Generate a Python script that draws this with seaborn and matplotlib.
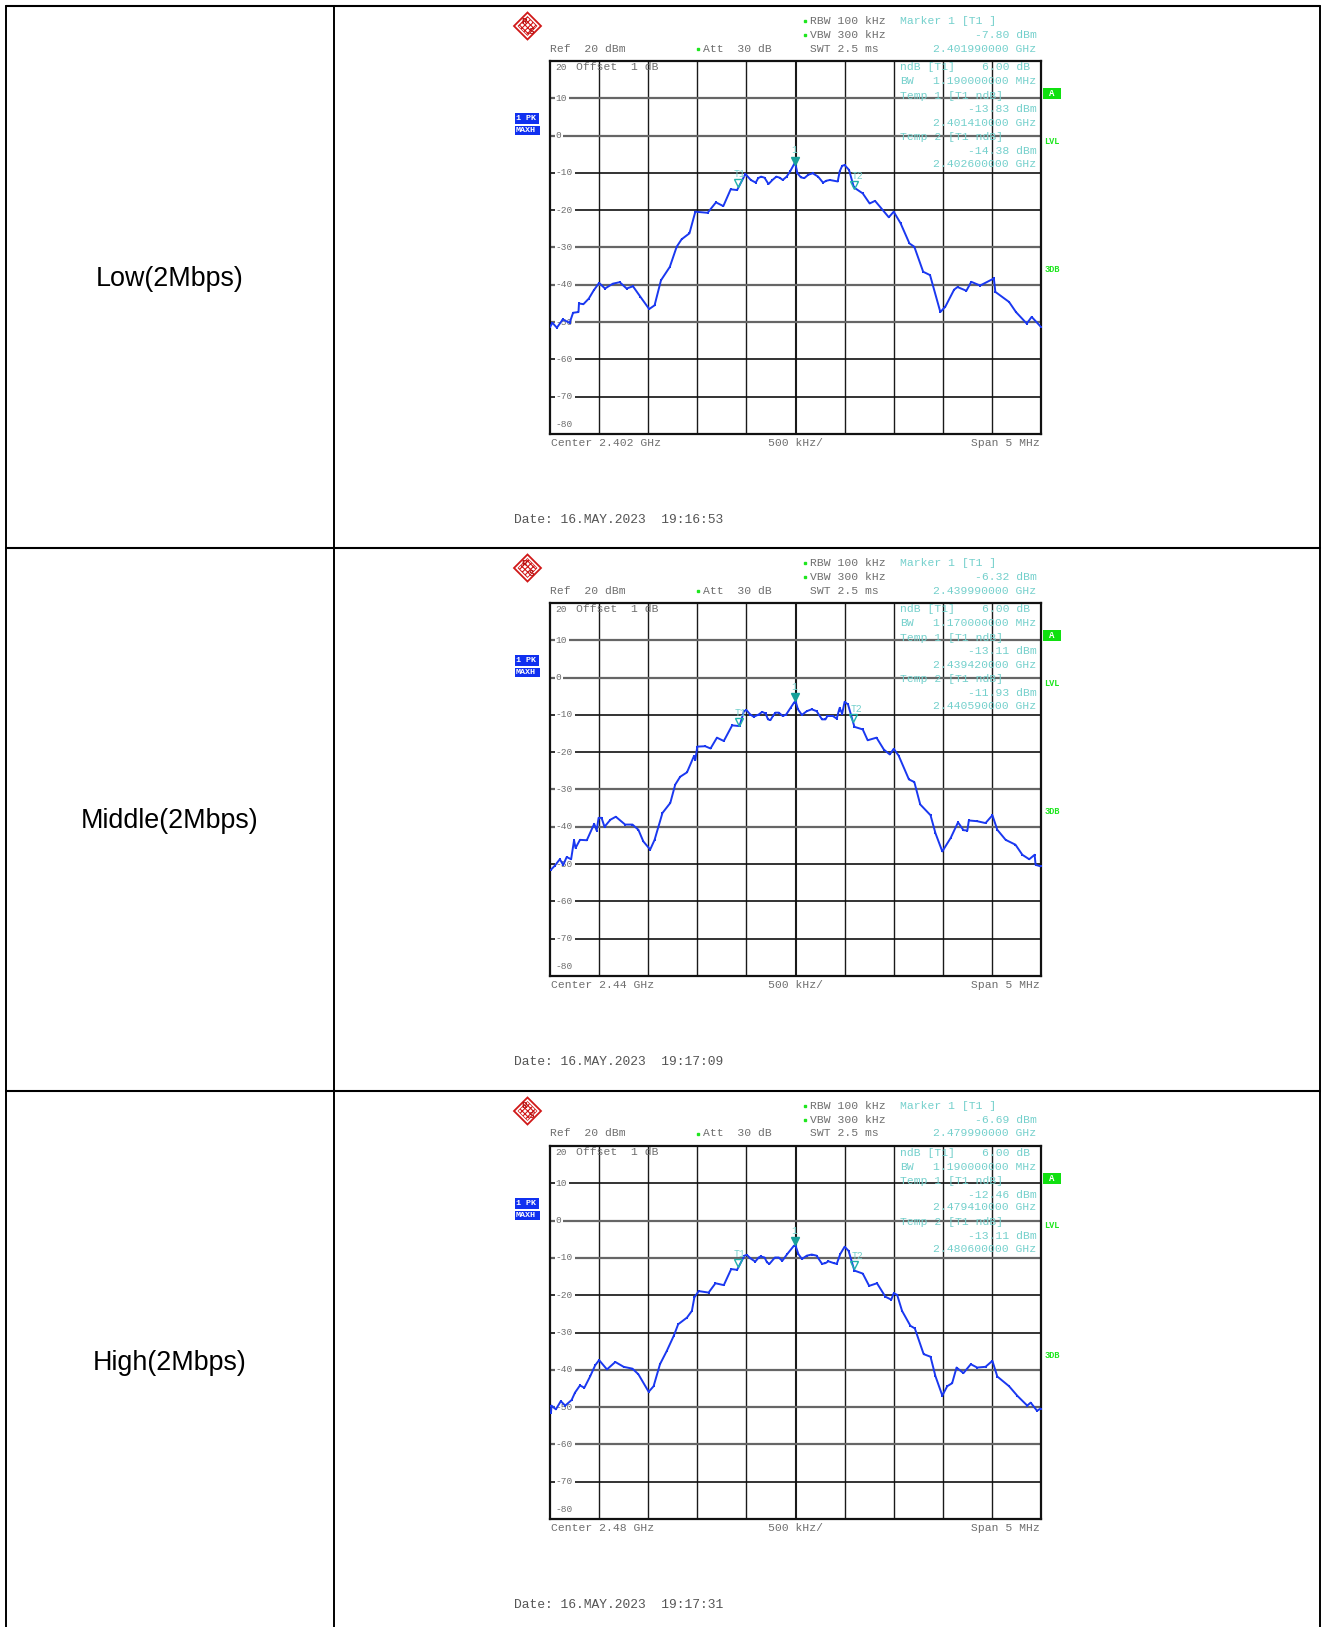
import numpy as np
import pandas as pd
import matplotlib
matplotlib.use("Agg")
import matplotlib.pyplot as plt
from matplotlib.patches import Polygon, Rectangle
from matplotlib.transforms import ScaledTranslation
import seaborn as sns

# ---- data: x in screen divisions (500 kHz each), y in dBm ----
low_div = [0, .05, .14, .26, .40, .47, .58, .59, .68, .79, .89, 1, 1.12, 1.28, 1.42, 1.56, 1.69, 1.84, 2.02, 2.13, 2.26, 2.44, 2.58, 2.68, 2.84, 2.96, 3.21, 3.38, 3.53, 3.68, 3.81, 3.98, 4.09, 4.19, 4.24, 4.30, 4.37, 4.45, 4.53, 4.61, 4.68, 4.74, 4.82, 4.89, 4.99, 5.04, 5.11, 5.18, 5.26, 5.35, 5.46, 5.56, 5.63, 5.70, 5.86, 5.90, 5.95, 6, 6.09, 6.19, 6.37, 6.51, 6.62, 6.90, 7, 7.14, 7.32, 7.42, 7.60, 7.74, 7.95, 8.05, 8.23, 8.30, 8.48, 8.58, 8.76, 9.04, 9.07, 9.35, 9.49, 9.71, 9.81, 10]
low_db = [-51.3, -50.2, -51.5, -49.3, -50.2, -47.5, -47.3, -45, -45.2, -43.7, -41.5, -39.5, -41, -39.7, -39.3, -41, -40.4, -43.2, -46.5, -45.5, -38.8, -35.2, -29.8, -27.8, -26.2, -20.4, -20.7, -17.9, -18.9, -14.4, -14.6, -10.3, -11.9, -12.6, -11.4, -11, -11.3, -13, -11.9, -11, -11.3, -11.9, -11, -9.6, -7.2, -10.1, -11.2, -11.4, -10.5, -10.1, -11, -12.6, -12.1, -11.9, -12.3, -9.6, -8.1, -7.9, -9.2, -13.9, -15.5, -18.2, -17.5, -21.9, -20.4, -23.5, -28.9, -29.8, -36.5, -37.4, -47.3, -45.9, -41.3, -40.6, -41.6, -39.2, -40.2, -38.3, -41.9, -44.6, -47.3, -50.4, -48.6, -51.3]

mid_div = [.02, .1, .2, .27, .34, .43, .49, .52, .61, .75, .90, .95, .99, 1.05, 1.11, 1.23, 1.34, 1.53, 1.68, 1.80, 1.90, 2.04, 2.13, 2.29, 2.45, 2.55, 2.65, 2.79, 2.93, 2.96, 3.0, 3.16, 3.27, 3.40, 3.54, 3.71, 3.86, 3.95, 4.0, 4.08, 4.15, 4.25, 4.32, 4.39, 4.44, 4.49, 4.54, 4.59, 4.66, 4.74, 4.81, 4.90, 4.97, 5.0, 5.05, 5.13, 5.23, 5.33, 5.43, 5.54, 5.61, 5.65, 5.76, 5.84, 5.88, 5.90, 5.95, 6, 6.07, 6.20, 6.37, 6.47, 6.65, 6.80, 6.92, 7, 7.10, 7.31, 7.42, 7.54, 7.75, 7.85, 7.99, 8.16, 8.31, 8.42, 8.5, 8.53, 8.70, 8.87, 9.01, 9.11, 9.28, 9.48, 9.62, 9.76, 9.87, 9.89, 9.99]
mid_db = [-51.5, -50.4, -48.7, -50.2, -48.1, -48.7, -43.6, -45.7, -43.5, -43.6, -39.2, -41, -37.6, -37.6, -40, -38.1, -37.3, -39.4, -39.4, -40.8, -43.9, -46.1, -43.5, -36.3, -33.6, -28.7, -26.6, -25.4, -21.1, -22.1, -18.5, -18.4, -19, -16.1, -17, -12.8, -13, -9, -8.7, -9.9, -10.5, -9.9, -9.2, -9.6, -11.2, -11.4, -10.3, -9.4, -9.4, -10.3, -9.9, -8.1, -6.7, -6.3, -8.5, -10, -9, -8.5, -9, -11.2, -11.2, -10.3, -10.3, -11, -9, -8.1, -9.7, -6.5, -7.2, -13.2, -13.9, -16.8, -16.1, -19.3, -20.6, -19.1, -20.9, -27.3, -28, -34, -36.9, -41.7, -46.6, -43, -38.8, -40.9, -41, -38.3, -38.5, -39, -36.9, -40.8, -43.5, -44.8, -47.5, -48.7, -47.5, -50.2, -50.6]

high_div = [.02, .03, .12, .22, .31, .44, .51, .61, .70, .82, .92, 1, 1.16, 1.33, 1.50, 1.68, 1.80, 2.01, 2.11, 2.24, 2.38, 2.52, 2.61, 2.79, 2.89, 2.94, 3.03, 3.23, 3.37, 3.54, 3.69, 3.81, 3.96, 4.01, 4.08, 4.18, 4.25, 4.29, 4.37, 4.42, 4.47, 4.58, 4.66, 4.73, 4.83, 4.97, 5.0, 5.06, 5.13, 5.23, 5.33, 5.43, 5.54, 5.61, 5.67, 5.78, 5.84, 5.91, 6, 6.08, 6.20, 6.37, 6.50, 6.66, 6.83, 6.95, 7, 7.07, 7.17, 7.34, 7.43, 7.61, 7.75, 7.85, 7.99, 8.09, 8.19, 8.28, 8.42, 8.57, 8.70, 8.87, 9.01, 9.11, 9.35, 9.52, 9.72, 9.79, 9.92, 9.99]
high_db = [-51.5, -49.6, -50.6, -48.4, -49.6, -48.1, -46.1, -44.2, -44.8, -41.7, -38.8, -37.4, -39.9, -37.9, -39.2, -39.7, -41.2, -45.9, -44.4, -38.5, -34.9, -30.9, -27.8, -26, -24.2, -20.6, -18.9, -19.3, -16.8, -17.3, -13, -13.2, -9.4, -9.2, -10.1, -11, -9.9, -9.6, -9.9, -11.2, -11.6, -9.9, -9.9, -10.8, -9, -6.7, -6.7, -9, -10.3, -9.4, -9.1, -9.4, -11.6, -11.4, -10.9, -11.4, -11.6, -9, -7, -8.1, -13.4, -14.2, -17.5, -16.8, -20.4, -21.2, -19.5, -19.9, -24.2, -28.2, -28.9, -35.8, -36.5, -41.7, -46.9, -44.4, -43.6, -39.4, -40.9, -38.5, -39.4, -39.2, -37.6, -41.8, -44.4, -47, -49.6, -48.8, -51, -50.4]

row_names = ["Low(2Mbps)", "Middle(2Mbps)", "High(2Mbps)"]
center_labels = ["Center 2.402 GHz", "Center 2.44 GHz", "Center 2.48 GHz"]
dates = ["Date: 16.MAY.2023  19:16:53", "Date: 16.MAY.2023  19:17:09", "Date: 16.MAY.2023  19:17:31"]
marker_1 = [("-7.80 dBm", "2.401990000 GHz"), ("-6.32 dBm", "2.439990000 GHz"), ("-6.69 dBm", "2.479990000 GHz")]
bandwidths = ["1.190000000 MHz", "1.170000000 MHz", "1.190000000 MHz"]
temp_1 = [("-13.83 dBm", "2.401410000 GHz"), ("-13.11 dBm", "2.439420000 GHz"), ("-12.46 dBm", "2.479410000 GHz")]
temp_2 = [("-14.38 dBm", "2.402600000 GHz"), ("-11.93 dBm", "2.440590000 GHz"), ("-13.11 dBm", "2.480600000 GHz")]
m1_pts = [(4.98, -7.80), (4.98, -6.32), (4.98, -6.69)]
t1_pts = [(3.82, -13.83), (3.84, -13.11), (3.82, -12.46)]
t2_pts = [(6.20, -14.38), (6.18, -11.93), (6.20, -13.11)]
db_levels = [10, 0, -10, -20, -30, -40, -50, -60, -70]
grey_levels = [[10, 0, -30, -40, -50], [10, 0, -30, -40], [0, -10, -40, -50, -60]]

# ---- layout, in reference pixels ----
W, H = 1322, 1627
tops = [61, 603, 1146]
row_y = [279.5, 820.5, 1363.5]
LEFT, RIGHT, PH = 550, 1041, 373
MONO = "Liberation Mono"
GREY, CYAN, GREEN, BLUE = "#6e6e6e", "#74d0cc", "#1ee61e", "#1a38f0"
LOGO_RED = "#d01818"

sns.set_theme(style="white")
plt.rcParams["font.family"] = ["Liberation Sans", "DejaVu Sans"]
plt.rcParams["hatch.color"] = LOGO_RED
plt.rcParams["hatch.linewidth"] = 0.8
fig = plt.figure(figsize=(W / 100, H / 100), dpi=100, facecolor="white")


def fx(x):
    return x / W


def fy(y):
    return 1 - y / H


def txt(x, y, s, color=GREY, ha="left", size=8.2, **kw):
    kw.setdefault("family", MONO)
    fig.text(fx(x), fy(y), s, color=color, ha=ha, va="center", fontsize=size, zorder=10, **kw)


def diamond(cx, cy, r):
    return [(fx(cx), fy(cy - r)), (fx(cx + r), fy(cy)), (fx(cx), fy(cy + r)), (fx(cx - r), fy(cy))]


# table rules
for x in (6, 334, 1320):
    fig.add_artist(plt.Line2D([fx(x)] * 2, [fy(6), 0], color="black", lw=1.4))
for y in (6, 548, 1091):
    fig.add_artist(plt.Line2D([fx(6), fx(1320)], [fy(y)] * 2, color="black", lw=1.5))

for i, (xs, ys) in enumerate([(low_div, low_db), (mid_div, mid_db), (high_div, high_db)]):
    T = tops[i]
    txt(169.5, row_y[i], row_names[i], color="black", ha="center", size=19.4, family="Liberation Sans")

    ax = fig.add_axes([fx(LEFT), fy(T + PH), (RIGHT - LEFT) / W, PH / H], facecolor="white")
    frame = pd.DataFrame({"div": xs, "dBm": ys})
    ax.set_xlim(0, 10)
    ax.set_ylim(-80, 20)
    ax.set_xticks(range(1, 10))
    ax.set_yticks(db_levels)
    ax.tick_params(left=False, bottom=False, labelleft=False, labelbottom=False)
    for v in range(1, 10):
        ax.axvline(v, color="#1a1a1a", lw=1.5 if v == 5 else 1.0, zorder=1)
    for lv in db_levels:
        grey = lv in grey_levels[i]
        ax.axhline(lv, color="#666666" if grey else "#111111", lw=1.6 if grey else 1.2, zorder=1)
    for s in ax.spines.values():
        s.set_visible(True)
        s.set_color("#111111")
        s.set_linewidth(1.6)

    # y labels sit on white patches that interrupt the grid
    for lv in db_levels:
        end = 0.50 if lv < 0 else (0.38 if lv else 0.27)
        ax.add_patch(Rectangle((0.10, lv - 1.6), end - 0.10, 3.2, facecolor="white", edgecolor="none", zorder=2))
        ax.text(0.11, lv, str(lv), family=MONO, fontsize=6.8, color=GREY, ha="left", va="center", zorder=3)
    ax.text(0.11, 18.2, "20", family=MONO, fontsize=6.8, color=GREY, ha="left", va="center", zorder=3)
    ax.text(0.11, -77.5, "-80", family=MONO, fontsize=6.8, color=GREY, ha="left", va="center", zorder=3)

    sns.lineplot(data=frame, x="div", y="dBm", ax=ax, color=BLUE, lw=1.4, errorbar=None, sort=False, zorder=5,
                 marker="s", markersize=1.5, markeredgewidth=0, legend=False, solid_joinstyle="round")
    ax.set_xlabel("")
    ax.set_ylabel("")

    # instrument markers, shifted a little above their value
    shift = ax.transData + ScaledTranslation(0, 3.0 / 72, fig.dpi_scale_trans)
    ax.plot([m1_pts[i][0]], [m1_pts[i][1]], marker="v", ms=6, color="#16a09a", mec="#16a09a", transform=shift, zorder=6, ls="none")
    ax.plot([t1_pts[i][0]], [t1_pts[i][1]], marker="v", ms=6, mfc="none", mec="#20b2aa", mew=1, transform=shift, zorder=6, ls="none")
    ax.plot([t2_pts[i][0]], [t2_pts[i][1]], marker="v", ms=6, mfc="none", mec="#20b2aa", mew=1, transform=shift, zorder=6, ls="none")
    ax.text(m1_pts[i][0], m1_pts[i][1] + 3.9, "1", family=MONO, fontsize=7, color=CYAN, ha="center", va="center", zorder=6)
    ax.text(t1_pts[i][0] + 0.04, t1_pts[i][1] + 3.6, "T1", family=MONO, fontsize=7, color=CYAN, ha="center", va="center", zorder=6)
    ax.text(t2_pts[i][0] + 0.07, t2_pts[i][1] + 3.6, "T2", family=MONO, fontsize=7, color=CYAN, ha="center", va="center", zorder=6)

    # header
    fig.add_artist(plt.Line2D([fx(805)], [fy(T - 40)], marker="s", ms=2, color=GREEN))
    fig.add_artist(plt.Line2D([fx(805)], [fy(T - 26)], marker="s", ms=2, color=GREEN))
    fig.add_artist(plt.Line2D([fx(698)], [fy(T - 12.5)], marker="s", ms=2, color=GREEN))
    txt(810, T - 40, "RBW 100 kHz")
    txt(810, T - 26, "VBW 300 kHz")
    txt(810, T - 12.5, "SWT 2.5 ms")
    txt(550, T - 12.5, "Ref  20 dBm")
    txt(703, T - 12.5, "Att  30 dB")
    txt(900, T - 40, "Marker 1 [T1 ]", CYAN)
    txt(1036.5, T - 26, marker_1[i][0], CYAN, "right")
    txt(1036.5, T - 12.5, marker_1[i][1], CYAN, "right")

    # inside the screen
    txt(576.5, T + 5.7, "Offset  1 dB")
    txt(900, T + 6.5, "ndB [T1]", CYAN)
    txt(1030, T + 6.5, "6.00 dB", CYAN, "right")
    txt(900, T + 20.5, "BW", CYAN)
    txt(1036.5, T + 20.5, bandwidths[i], CYAN, "right")
    txt(900, T + 34.7, "Temp 1 [T1 ndB]", CYAN)
    txt(1036.5, T + 48.5, temp_1[i][0], CYAN, "right")
    txt(1036.5, T + 61.5, temp_1[i][1], CYAN, "right")
    txt(900, T + 75.7, "Temp 2 [T1 ndB]", CYAN)
    txt(1036.5, T + 89.7, temp_2[i][0], CYAN, "right")
    txt(1036.5, T + 102.7, temp_2[i][1], CYAN, "right")

    # footer
    txt(551, T + PH + 9, center_labels[i])
    txt(796, T + PH + 9, "500 kHz/", ha="center")
    txt(1039.6, T + PH + 9, "Span 5 MHz", ha="right")
    txt(514, T + 459, dates[i], color="#555555", size=9.4)

    # right side flags
    fig.add_artist(Rectangle((fx(1043), fy(T + 38)), 18 / W, 11 / H, transform=fig.transFigure, facecolor="#10e010", edgecolor="none"))
    txt(1052, T + 32.5, "A", "white", "center", 6.5, fontweight="bold")
    txt(1044.5, T + 80, "LVL", GREEN, size=6.2, fontweight="bold")
    txt(1044.5, T + 209, "3DB", GREEN, size=6.2, fontweight="bold")

    # trace flags
    fig.add_artist(Rectangle((fx(515), fy(T + 63)), 24 / W, 11 / H, transform=fig.transFigure, facecolor="#1030f0", edgecolor="none"))
    fig.add_artist(Rectangle((fx(515), fy(T + 74.3)), 25 / W, 9.6 / H, transform=fig.transFigure, facecolor="#1030f0", edgecolor="none"))
    txt(516.5, T + 57.5, "1 PK", "white", size=6, fontweight="bold")
    txt(516, T + 69.5, "MAXH", "white", size=6, fontweight="bold")

    # maker's logo: a red diamond, hatched inside, with its letters
    cx, cy = 527.5, T - 35
    fig.add_artist(Polygon(diamond(cx, cy, 13.5), closed=True, transform=fig.transFigure, facecolor="white", edgecolor=LOGO_RED, lw=1.3))
    fig.add_artist(Polygon(diamond(cx, cy, 9.5), closed=True, transform=fig.transFigure, facecolor="white", edgecolor=LOGO_RED, lw=0.5, hatch="xxxxxx"))
    fig.text(fx(cx - 3.5), fy(cy - 5), "R", color="#b81010", ha="center", va="center", fontsize=6.5, fontweight="bold", family=MONO, zorder=10)
    fig.text(fx(cx + 3.5), fy(cy + 5), "S", color="#b81010", ha="center", va="center", fontsize=6.5, fontweight="bold", family=MONO, zorder=10)

fig.savefig("out.png", dpi=100, facecolor="white")
